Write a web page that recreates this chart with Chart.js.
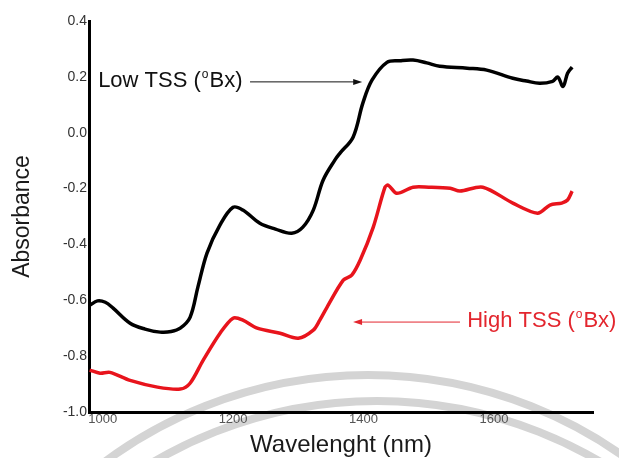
<!DOCTYPE html>
<html>
<head>
<meta charset="utf-8">
<script src="https://cdn.jsdelivr.net/npm/chart.js@4.4.1/dist/chart.umd.min.js"></script>
<style>
  html, body { margin: 0; padding: 0; background: #fff; }
  #wrap { width: 619px; height: 458px; }
</style>
</head>
<body>
<div id="wrap"><canvas id="spectra" width="619" height="458"></canvas></div>
<script>
// wavelength (nm) / absorbance
const wavelengthLow = [980, 992, 1004, 1016, 1042, 1065, 1088, 1105, 1119, 1134, 1146, 1160, 1180, 1200, 1215, 1241, 1265, 1290, 1307, 1323, 1338, 1356, 1364, 1384, 1399, 1413, 1436, 1456, 1476, 1497, 1517, 1559, 1589, 1629, 1650, 1670, 1690, 1698, 1706, 1713, 1720];
const absorbanceLow = [-0.618, -0.602, -0.607, -0.628, -0.682, -0.703, -0.714, -0.712, -0.700, -0.661, -0.553, -0.431, -0.330, -0.267, -0.277, -0.324, -0.345, -0.360, -0.338, -0.277, -0.170, -0.098, -0.073, -0.016, 0.106, 0.188, 0.252, 0.258, 0.260, 0.250, 0.238, 0.231, 0.224, 0.195, 0.185, 0.177, 0.184, 0.199, 0.166, 0.213, 0.235];

const wavelengthHigh = [980, 996, 1011, 1042, 1084, 1119, 1134, 1154, 1180, 1200, 1215, 1237, 1272, 1300, 1323, 1333, 1344, 1369, 1382, 1395, 1415, 1433, 1438, 1451, 1476, 1500, 1533, 1548, 1583, 1629, 1667, 1686, 1704, 1713, 1720];
const absorbanceHigh = [-0.850, -0.861, -0.858, -0.887, -0.911, -0.918, -0.897, -0.815, -0.718, -0.664, -0.671, -0.700, -0.718, -0.736, -0.707, -0.671, -0.625, -0.528, -0.510, -0.456, -0.338, -0.195, -0.188, -0.217, -0.195, -0.195, -0.199, -0.209, -0.195, -0.252, -0.288, -0.259, -0.252, -0.241, -0.209];

const xTicks = [1000, 1200, 1400, 1600];
const yTicks = [-1.0, -0.8, -0.6, -0.4, -0.2, 0.0, 0.2, 0.4];

const FONT = "'Liberation Sans', Arial, sans-serif";

function toPoints(xs, ys) {
    return xs.map((x, i) => ({ x: x, y: ys[i] }));
}

// label with a raised "o" and an arrow
function drawTag(ctx, x, y, color, parts, arrow) {
    ctx.save();
    ctx.fillStyle = color;
    ctx.textBaseline = 'alphabetic';
    ctx.textAlign = 'left';
    ctx.font = '22px ' + FONT;
    ctx.fillText(parts[0], x, y);
    let cx = x + ctx.measureText(parts[0]).width + 1;
    ctx.font = '12px ' + FONT;
    ctx.fillText('o', cx, y - 9);
    cx += ctx.measureText('o').width + 1;
    ctx.font = '22px ' + FONT;
    ctx.fillText(parts[1], cx, y);

    const [x0, x1, ay] = arrow;
    const dir = Math.sign(x1 - x0);
    ctx.strokeStyle = color;
    ctx.lineWidth = 1;
    ctx.beginPath();
    ctx.moveTo(x0, ay);
    ctx.lineTo(x1 - dir * 6, ay);
    ctx.stroke();
    ctx.beginPath();
    ctx.moveTo(x1, ay);
    ctx.lineTo(x1 - dir * 9, ay - 3);
    ctx.lineTo(x1 - dir * 9, ay + 3);
    ctx.closePath();
    ctx.fill();
    ctx.restore();
}

const decor = {
    id: 'decor',
    beforeDraw(chart) {
        const ctx = chart.ctx;
        ctx.save();
        ctx.fillStyle = '#fff';
        ctx.fillRect(0, 0, chart.width, chart.height);
        // faint watermark arcs behind the plot
        ctx.strokeStyle = '#d4d4d4';
        ctx.lineWidth = 8;
        ctx.beginPath();
        ctx.arc(368, 817, 442, Math.PI, 2 * Math.PI);
        ctx.stroke();
        ctx.beginPath();
        ctx.arc(377, 841, 440, Math.PI, 2 * Math.PI);
        ctx.stroke();
        ctx.restore();
    },
    afterDraw(chart) {
        const ctx = chart.ctx;
        const xs = chart.scales.x, ys = chart.scales.y;
        drawTag(ctx, xs.getPixelForValue(993), ys.getPixelForValue(0.164), '#111',
            ['Low TSS (', 'Bx)'],
            [xs.getPixelForValue(1226), xs.getPixelForValue(1398), ys.getPixelForValue(0.182)]);
        drawTag(ctx, xs.getPixelForValue(1559), ys.getPixelForValue(-0.696), '#e3262e',
            ['High TSS (', 'Bx)'],
            [xs.getPixelForValue(1548), xs.getPixelForValue(1384), ys.getPixelForValue(-0.678)]);
    }
};

const ctx = document.getElementById('spectra').getContext('2d');

new Chart(ctx, {
    type: 'line',
    data: {
        datasets: [
            {
                label: 'Low TSS',
                data: toPoints(wavelengthLow, absorbanceLow),
                borderColor: '#000',
                borderWidth: 3.5,
                pointRadius: 0,
                fill: false,
                tension: 0.35,
                clip: false
            },
            {
                label: 'High TSS',
                data: toPoints(wavelengthHigh, absorbanceHigh),
                borderColor: '#e8141c',
                borderWidth: 3.5,
                pointRadius: 0,
                fill: false,
                tension: 0.3,
                clip: false
            }
        ]
    },
    options: {
        responsive: false,
        animation: false,
        devicePixelRatio: 1,
        layout: { padding: { top: 21, right: 26, left: 0, bottom: 0 } },
        plugins: {
            legend: { display: false },
            tooltip: { enabled: false }
        },
        scales: {
            x: {
                type: 'linear',
                min: 979,
                max: 1752,
                afterFit: (s) => { s.height = 46; },
                afterBuildTicks: (s) => { s.ticks = xTicks.map(v => ({ value: v })); },
                grid: { display: false, drawTicks: false },
                border: { display: true, color: '#000', width: 3 },
                ticks: {
                    color: '#555',
                    padding: 0,
                    maxRotation: 0,
                    font: { family: FONT, size: 13 },
                    callback: (v) => String(v)
                },
                title: {
                    display: true,
                    text: 'Wavelenght (nm)',
                    color: '#1a1a1a',
                    font: { family: FONT, size: 24, lineHeight: 1 },
                    padding: { top: 0, bottom: 1 }
                }
            },
            y: {
                min: -1.0,
                max: 0.4,
                afterFit: (s) => { s.width = 89; },
                afterBuildTicks: (s) => { s.ticks = yTicks.map(v => ({ value: v })); },
                grid: { display: false, drawTicks: false },
                border: { display: true, color: '#000', width: 3 },
                ticks: {
                    color: '#333',
                    padding: 2,
                    font: { family: FONT, size: 14 },
                    callback: (v) => (Math.abs(v) < 1e-9 ? 0 : v).toFixed(1)
                },
                title: {
                    display: true,
                    text: 'Absorbance',
                    color: '#1a1a1a',
                    font: { family: FONT, size: 23, lineHeight: 1 },
                    padding: { top: 11, bottom: 0 }
                }
            }
        }
    },
    plugins: [decor]
});
</script>
</body>
</html>
